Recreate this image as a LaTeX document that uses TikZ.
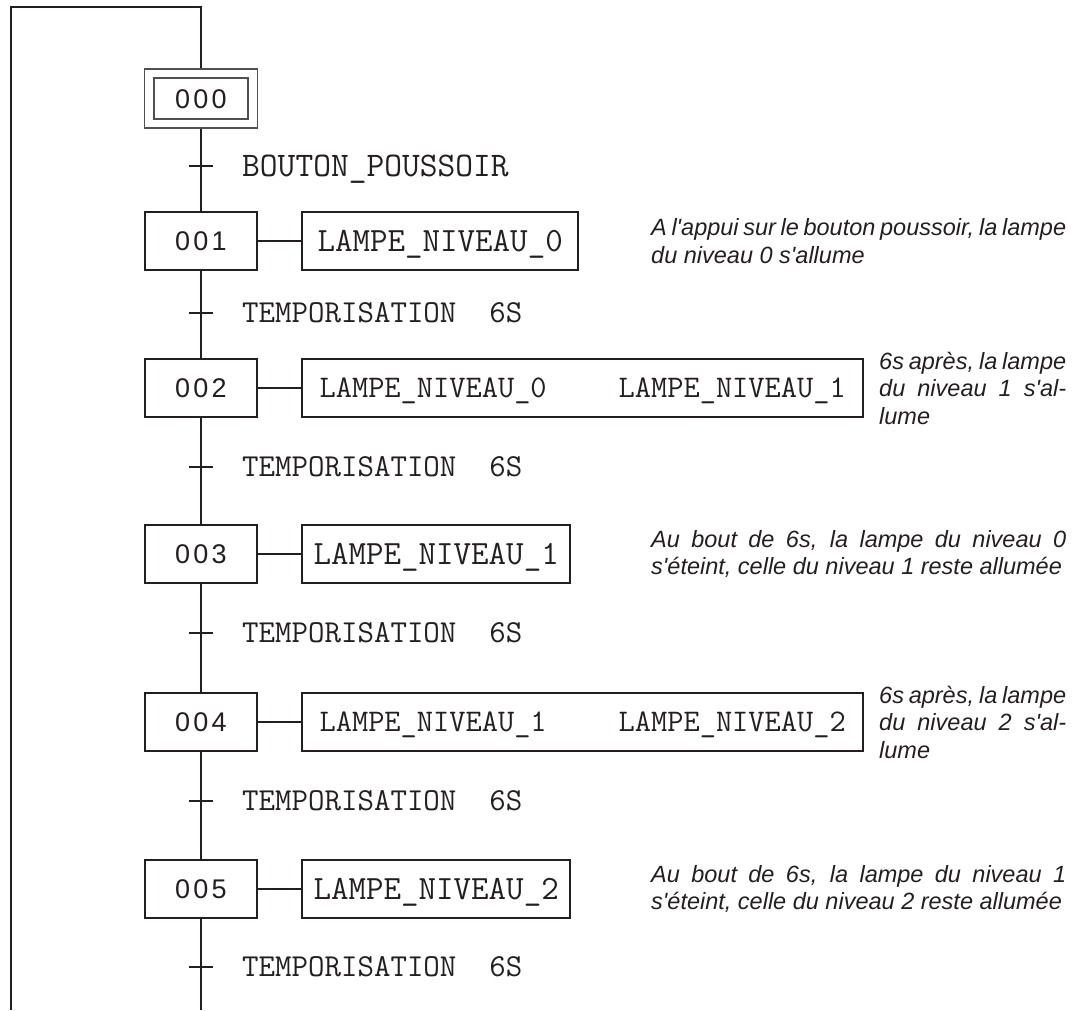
\documentclass[tikz,border=0pt]{standalone}
\usepackage{fontspec}
\newfontfamily\stepfont[LetterSpace=12]{Liberation Sans}
\newfontfamily\notefont{Liberation Sans}
\definecolor{ink}{HTML}{231F20}
\definecolor{frame}{HTML}{505050}
\usetikzlibrary{positioning}
\newcommand{\ap}{\textquotesingle}
\tolerance=9999
\hbadness=10000

\begin{document}
\begin{tikzpicture}[x=1pt,y=-1pt,
  mainline/.style={draw=ink,line width=2.7pt},
  link/.style={draw=ink,line width=1.2pt},
  stepbox/.style={draw=ink,line width=2.4pt,minimum width=112pt,minimum height=58pt,
        inner sep=0pt,text=ink,font=\stepfont\fontsize{27}{27}\selectfont,
        text height=19.3pt,text depth=0pt},
  initbox/.style={draw=frame,line width=1.4pt,minimum width=113pt,minimum height=59pt,
        inner sep=0pt},
  initinner/.style={stepbox,draw=frame,line width=1.4pt,minimum width=94pt,
        minimum height=41pt},
  actbox/.style={draw=ink,line width=2.4pt,minimum height=58pt,inner sep=0pt,anchor=west,
        text=ink,font=\ttfamily\fontsize{34}{34}\selectfont,
        text height=20.8pt,text depth=0pt},
  twoact/.style={actbox,minimum width=561pt,font=\ttfamily\fontsize{31.5}{31.5}\selectfont,
        text height=19.3pt},
  translabel/.style={anchor=west,inner sep=0pt,text=ink,
        font=\ttfamily\fontsize{32}{32}\selectfont,text height=19.6pt,text depth=0pt},
  tickbar/.style={fill=ink,minimum width=24pt,minimum height=2.7pt,inner sep=0pt},
  note/.style={anchor=west,inner sep=0pt,text width=415pt,align=justify,text=ink,
        font=\notefont\itshape\fontsize{23.5}{27.5}\selectfont},
  shortnote/.style={note,text width=187pt}]
  \useasboundingbox (0,0) rectangle (1086,1010);

  %% Initial step (double frame)
  \node[initbox] (s0) at (201,98.5) {};
  \node[initinner] (s0in) at (s0.center) {000};

  %% Steps
  \node[stepbox] (s1) at (201,241) {001};
  \node[stepbox] (s2) at (201,388) {002};
  \node[stepbox] (s3) at (201,554) {003};
  \node[stepbox] (s4) at (201,722) {004};
  \node[stepbox] (s5) at (201,889) {005};

  %% Actions
  \node[actbox,minimum width=276pt] (a1) at (301,241) {LAMPE\_NIVEAU\_0};
  \node[twoact] (a2) at (301,388) {LAMPE\_NIVEAU\_0\hspace{72pt}LAMPE\_NIVEAU\_1};
  \node[actbox,minimum width=268pt] (a3) at (301,554) {LAMPE\_NIVEAU\_1};
  \node[twoact] (a4) at (301,722) {LAMPE\_NIVEAU\_1\hspace{72pt}LAMPE\_NIVEAU\_2};
  \node[actbox,minimum width=268pt] (a5) at (301,889) {LAMPE\_NIVEAU\_2};

  %% Loop back corners
  \coordinate (bot) at (201,1010);
  \coordinate (loopbl) at (11,1010);
  \coordinate (looptl) at (11,7);
  \coordinate (looptr) at (201,7);

  %% Vertical links
  \foreach \a/\b in {s0/s1,s1/s2,s2/s3,s3/s4,s4/s5}
    \draw[mainline] (\a.south) -- (\b.north);
  \draw[mainline] (s5.south) -- (bot);
  \draw[mainline] (loopbl) -- (looptl) -- (looptr) -- (s0.north);
  \foreach \i in {1,...,5}
    \draw[link] (s\i.east) -- (a\i.west);

  %% Transitions
  \node[tickbar] (t1) at (201,166) {};
  \node[tickbar] (t2) at (201,313) {};
  \node[tickbar] (t3) at (201,467) {};
  \node[tickbar] (t4) at (201,633) {};
  \node[tickbar] (t5) at (201,801) {};
  \node[tickbar] (t6) at (201,967) {};
  \node[translabel,font=\ttfamily\fontsize{34.5}{34.5}\selectfont,text height=21pt]
        (r1) at (242,166) {BOUTON\_POUSSOIR};
  \node[translabel] (r2) at (242,313) {TEMPORISATION~~6S};
  \node[translabel] (r3) at (242,467) {TEMPORISATION~~6S};
  \node[translabel] (r4) at (242,633) {TEMPORISATION~~6S};
  \node[translabel] (r5) at (242,801) {TEMPORISATION~~6S};
  \node[translabel] (r6) at (242,967) {TEMPORISATION~~6S};

  %% Comments
  \node[note] (n1) at (651,241)
        {A l\ap appui sur le bouton poussoir, la lampe\linebreak du niveau 0 s\ap allume};
  \node[shortnote] (n2) at (879,388)
        {6s après, la lampe\linebreak du niveau 1 s\ap al-\linebreak lume};
  \node[note] (n3) at (651,554)
        {Au bout de 6s, la lampe du niveau 0\linebreak s\ap éteint, celle du niveau 1 reste allumée};
  \node[shortnote] (n4) at (879,722)
        {6s après, la lampe\linebreak du niveau 2 s\ap al-\linebreak lume};
  \node[note] (n5) at (651,889)
        {Au bout de 6s, la lampe du niveau 1\linebreak s\ap éteint, celle du niveau 2 reste allumée};
\end{tikzpicture}
\end{document}
